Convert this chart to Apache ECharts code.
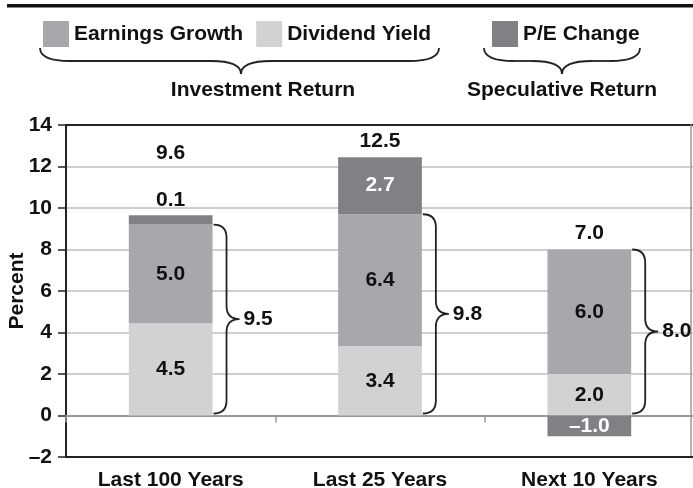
<!DOCTYPE html>
<html>
<head>
<meta charset="utf-8">
<script src="https://cdn.jsdelivr.net/npm/echarts@6/dist/echarts.min.js"></script>
<style>
  html, body { margin: 0; padding: 0; background: #fff; }
  #main { width: 693px; height: 488px; }
</style>
</head>
<body>
<div id="main"></div>
<script>
// data
const categories = ['Last 100 Years', 'Last 25 Years', 'Next 10 Years'];
const dividendYield = [4.45, 3.35, 2.0];
const earningsGrowth = [4.75, 6.35, 6.0];
const peChange = [0.45, 2.75, -1.0];

const dividendLabels = ['4.5', '3.4', '2.0'];
const earningsLabels = ['5.0', '6.4', '6.0'];
const peLabels = ['0.1', '2.7', '–1.0'];
const totalLabels = ['9.6', '12.5', '7.0'];
const investLabels = ['9.5', '9.8', '8.0'];

const FONT = '"Liberation Sans", Arial, sans-serif';
const FONT_CSS = 'bold 21px ' + FONT;
const bold = { fontFamily: FONT, fontWeight: 'bold', fontSize: 21, color: '#111' };

// split line colours: -2 (covered by the x axis), 0, 2..12, 14 (top frame)
const gridColors = ['#222', '#999', '#cfcfcf', '#cfcfcf', '#cfcfcf', '#cfcfcf', '#cfcfcf', '#cfcfcf', '#222'];

const chart = echarts.init(document.getElementById('main'));

// horizontal curly brace above the axis titles, built from lines and curves
function hBrace(x0, x1, xm, y, rx, ry) {
  const st = { fill: 'none', stroke: '#222', lineWidth: 1.8 };
  const yl = y + ry;
  const curve = (a, b, c, d, e, f) => ({ type: 'bezierCurve', shape: { x1: a, y1: b, cpx1: c, cpy1: d, x2: e, y2: f }, style: st });
  const line = (a, b, c, d) => ({ type: 'line', shape: { x1: a, y1: b, x2: c, y2: d }, style: st });
  return {
    type: 'group',
    children: [
      curve(x0, y, x0, yl, x0 + rx, yl),
      line(x0 + rx, yl, xm - rx, yl),
      curve(xm - rx, yl, xm, yl, xm, yl + ry),
      curve(xm, yl + ry, xm, yl, xm + rx, yl),
      line(xm + rx, yl, x1 - rx, yl),
      curve(x1 - rx, yl, x1, yl, x1, y)
    ]
  };
}

const option = {
  animation: false,
  grid: { left: 66, top: 125, width: 628, height: 332, outerBoundsMode: 'none', containLabel: false },
  legend: [
    {
      left: 38, top: 16, itemWidth: 26, itemHeight: 26, itemGap: 13, icon: 'rect',
      selectedMode: false,
      data: ['Earnings Growth', 'Dividend Yield'],
      textStyle: bold
    },
    {
      left: 487, top: 16, itemWidth: 26, itemHeight: 26, icon: 'rect',
      selectedMode: false,
      data: ['P/E Change'],
      textStyle: bold
    }
  ],
  graphic: [
    { type: 'rect', shape: { x: 7, y: 4, width: 686, height: 3.5 }, style: { fill: '#111' } },
    hBrace(40, 439, 241, 48, 30, 13),
    hBrace(484, 640, 562, 48, 30, 13),
    { type: 'text', x: 263, y: 90, style: { text: 'Investment Return', font: FONT_CSS, fill: '#111', textAlign: 'center', textVerticalAlign: 'middle' } },
    { type: 'text', x: 562, y: 90, style: { text: 'Speculative Return', font: FONT_CSS, fill: '#111', textAlign: 'center', textVerticalAlign: 'middle' } }
  ],
  xAxis: [
    {
      // bottom frame with the category names
      type: 'category', data: categories, position: 'bottom',
      axisLine: { onZero: false, lineStyle: { color: '#222', width: 2 } },
      axisTick: { show: false },
      axisLabel: Object.assign({ margin: 13, interval: 0 }, bold)
    },
    {
      // zero line with the small ticks between categories
      type: 'category', data: categories, position: 'top',
      axisLine: { onZero: true, lineStyle: { color: '#999', width: 2 } },
      axisTick: { show: true, inside: true, length: 7, lineStyle: { color: '#999', width: 1.5 } },
      axisLabel: { show: false }
    }
  ],
  yAxis: [
    {
      type: 'value', min: -2, max: 14, interval: 2,
      name: 'Percent', nameLocation: 'middle', nameGap: 38, nameRotate: 90, nameMoveOverlap: false,
      nameTextStyle: bold,
      axisLine: { show: true, lineStyle: { color: '#222', width: 2 } },
      axisTick: { show: true, length: 8, lineStyle: { color: '#222', width: 1.5 } },
      axisLabel: Object.assign({ margin: 14, formatter: v => (v < 0 ? '–' + Math.abs(v) : String(v)) }, bold),
      splitLine: { show: true, lineStyle: { color: gridColors, width: 2 } }
    },
    {
      type: 'value', min: -2, max: 14, interval: 2, position: 'right', offset: -3,
      axisLine: { show: true, lineStyle: { color: '#999', width: 1.5 } },
      axisTick: { show: false }, axisLabel: { show: false }, splitLine: { show: false }
    }
  ],
  series: [
    {
      name: 'Dividend Yield', type: 'bar', stack: 'r', barWidth: '40%',
      itemStyle: { color: '#d1d2d4' },
      label: Object.assign({ show: true, position: 'inside', formatter: p => dividendLabels[p.dataIndex] }, bold),
      data: dividendYield
    },
    {
      name: 'Earnings Growth', type: 'bar', stack: 'r', barWidth: '40%',
      itemStyle: { color: '#a7a8ab' },
      label: Object.assign({ show: true, position: 'inside', formatter: p => earningsLabels[p.dataIndex] }, bold),
      data: earningsGrowth
    },
    {
      name: 'P/E Change', type: 'bar', stack: 'r', barWidth: '40%',
      itemStyle: { color: '#808184' },
      label: Object.assign({}, bold, { show: true, position: 'inside', color: '#fff', formatter: p => peLabels[p.dataIndex] }),
      // the thin first segment carries its label above the bar
      data: peChange.map((v, i) => i === 0
        ? { value: v, label: { position: 'top', distance: 5, color: '#111' } }
        : v)
    },
    {
      // totals above each bar (the first one sits higher, above the 0.1 label)
      type: 'custom', silent: true, z: 5,
      encode: { x: 0, y: 1 },
      data: categories.map((c, i) => [i, dividendYield[i] + earningsGrowth[i] + Math.max(peChange[i], 0)]),
      renderItem(params, api) {
        const p = api.coord([api.value(0), api.value(1)]);
        const lift = params.dataIndex === 0 ? 62 : 16;
        return {
          type: 'text', x: p[0], y: p[1] - lift,
          style: { text: totalLabels[params.dataIndex], font: FONT_CSS, fill: '#111', textAlign: 'center', textVerticalAlign: 'middle' }
        };
      }
    },
    {
      // braces summing dividend yield + earnings growth
      type: 'custom', silent: true, z: 5,
      encode: { x: 0, y: [1, 2] },
      data: categories.map((c, i) => [i, 0, dividendYield[i] + earningsGrowth[i]]),
      renderItem(params, api) {
        const i = api.value(0);
        const band = api.size([1, 0])[0];
        const x0 = api.coord([i, 0])[0] + band * 0.2 + 1;
        const yb = api.coord([i, api.value(1)])[1] - 2;
        const yt = api.coord([i, api.value(2)])[1];
        const ym = (yt + yb) / 2;
        const r = 13;
        const d = `M${x0},${yt} Q${x0 + r},${yt} ${x0 + r},${yt + r} L${x0 + r},${ym - r} ` +
          `Q${x0 + r},${ym} ${x0 + 2 * r},${ym} Q${x0 + r},${ym} ${x0 + r},${ym + r} ` +
          `L${x0 + r},${yb - r} Q${x0 + r},${yb} ${x0},${yb}`;
        return {
          type: 'group',
          children: [
            { type: 'path', shape: { pathData: d }, style: { fill: 'none', stroke: '#222', lineWidth: 1.8 } },
            {
              type: 'text', x: x0 + 2 * r + 4, y: ym,
              style: { text: investLabels[params.dataIndex], font: FONT_CSS, fill: '#111', textAlign: 'left', textVerticalAlign: 'middle' }
            }
          ]
        };
      }
    }
  ]
};

chart.setOption(option);
</script>
</body>
</html>
